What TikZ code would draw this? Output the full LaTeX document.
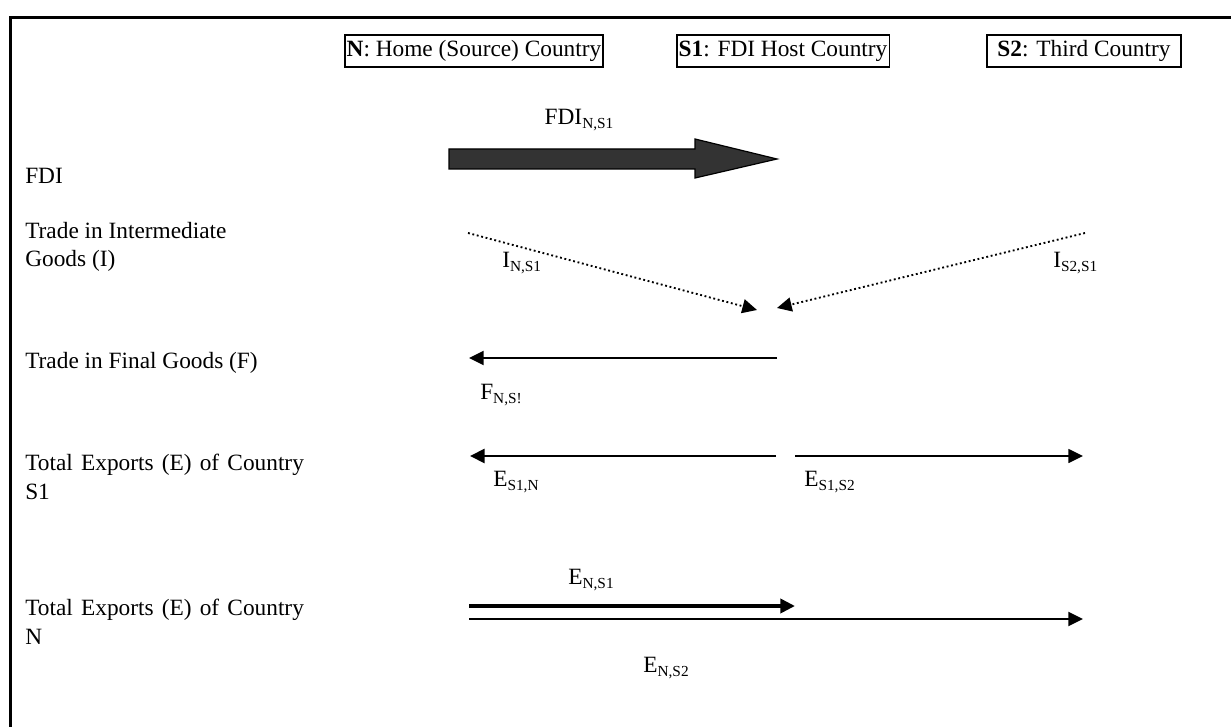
\documentclass[tikz,border=0pt]{standalone}
\usepackage{fontspec}
\setmainfont{Liberation Serif}
\usetikzlibrary{arrows.meta,calc}
\newcommand{\bodyfont}{\fontsize{17.5}{21.5}\selectfont}
\newcommand{\sbs}[1]{\raisebox{-0.35ex}{\fontsize{11.5}{12}\selectfont #1}}
\tikzset{
  cbox/.style={draw, line width=1.3pt, inner xsep=1.5pt, inner ysep=0pt, minimum height=24pt, font=\bodyfont},
  lab/.style={anchor=west, align=left, inner sep=0pt, font=\bodyfont},
  flow/.style={inner sep=0pt, font=\bodyfont},
  tip/.style={-{Triangle[length=11pt,width=10.5pt]}},
  dotarrow/.style={tip, dotted, line width=1.4pt},
  thinarrow/.style={tip, line width=1.1pt},
  thickarrow/.style={tip, line width=2.1pt},
  fatarrow/.style={tip, line width=3.6pt},
}
\begin{document}
\begin{tikzpicture}[x=0.75pt,y=-0.75pt]
\useasboundingbox (0,0) rectangle (1231,727);
% frame
\draw[line width=2pt] (10.5,727) -- (10.5,17.8) -- (1231,17.8);
% country boxes
\node[cbox] (N) at (474,51) {\textbf{N}: Home (Source) Country};
\node[cbox] (S1) at (783,51) {\textbf{S1}: FDI Host Country};
\node[cbox, minimum width=145pt] (S2) at (1084,51) {\textbf{S2}: Third Country};
% row labels
\node[lab] (rFDI) at (25,176) {FDI};
\node[lab] (rI) at (25,247) {Trade in Intermediate\\Goods (I)};
\node[lab] (rF) at (25,363) {Trade in Final Goods (F)};
\node[lab] (rES1) at (25,477) {\makebox[209pt][s]{Total Exports (E) of Country}\\S1};
\node[lab] (rEN) at (25,622) {\makebox[209pt][s]{Total Exports (E) of Country}\\N};
% FDI arrow
\coordinate (fdiA) at (449,159);
\coordinate (fdiB) at (777,159);
\filldraw[fill=black!80, draw=black, line width=0.9pt]
  ($(fdiA)+(0,-10)$) -- ($(fdiB)+(-82,-10)$) -- ($(fdiB)+(-82,-20)$) -- (fdiB)
  -- ($(fdiB)+(-82,19)$) -- ($(fdiB)+(-82,10)$) -- ($(fdiA)+(0,10)$) -- cycle;
\node[flow] (lFDI) at (579,120) {FDI\sbs{N,S1}};
% intermediate goods
\coordinate (iN0) at (468,233);
\coordinate (iN1) at (757,310);
\coordinate (iS0) at (1085,233);
\coordinate (iS1) at (777,308);
\draw[dotarrow] (iN0) -- (iN1);
\draw[dotarrow] (iS0) -- (iS1);
\node[flow, anchor=west] (lIN) at (502,263) {I\sbs{N,S1}};
\node[flow, anchor=west] (lIS) at (1053,263) {I\sbs{S2,S1}};
% final goods
\coordinate (f0) at (777,358);
\coordinate (f1) at (469,358);
\draw[thinarrow, line width=1.4pt] (f0) -- (f1);
\node[flow, anchor=west] (lF) at (480,395) {F\sbs{N,S!}};
% exports of S1
\coordinate (e10) at (776,456);
\coordinate (e11) at (470,456);
\coordinate (e20) at (795,456);
\coordinate (e21) at (1083,456);
\draw[thickarrow] (e10) -- (e11);
\draw[thinarrow] (e20) -- (e21);
\node[flow, anchor=west] (lE1) at (493,482) {E\sbs{S1,N}};
\node[flow, anchor=west] (lE2) at (804,482) {E\sbs{S1,S2}};
% exports of N
\coordinate (n10) at (469,606);
\coordinate (n11) at (795,606);
\coordinate (n20) at (469,619);
\coordinate (n21) at (1083,619);
\draw[fatarrow] (n10) -- (n11);
\draw[thinarrow, line width=1.4pt] (n20) -- (n21);
\node[flow] (lEN1) at (591,580) {E\sbs{N,S1}};
\node[flow] (lEN2) at (666,668) {E\sbs{N,S2}};
\end{tikzpicture}
\end{document}
